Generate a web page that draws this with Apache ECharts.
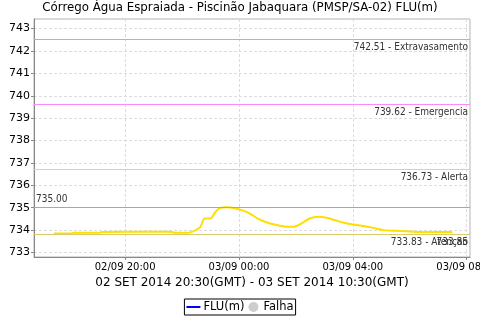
<!DOCTYPE html>
<html><head><meta charset="utf-8">
<script src="https://cdn.jsdelivr.net/npm/echarts@6/dist/echarts.min.js"></script>
<style>html,body{margin:0;padding:0;background:#fff}#c{width:480px;height:320px}</style>
</head><body><div id="c"></div>
<script>
var titleText = 'Córrego Água Espraiada - Piscinão Jabaquara (PMSP/SA-02) FLU(m)';
var axisName = '02 SET 2014 20:30(GMT) - 03 SET 2014 10:30(GMT)';
var times = ['2014-09-02T17:30Z','2014-09-02T18:06Z','2014-09-02T18:12Z','2014-09-02T19:06Z','2014-09-02T19:12Z',
 '2014-09-02T21:36Z','2014-09-02T21:45Z','2014-09-02T22:12Z','2014-09-02T22:27Z','2014-09-02T22:38Z',
 '2014-09-02T22:48Z','2014-09-02T23:00Z','2014-09-02T23:10Z','2014-09-02T23:20Z','2014-09-02T23:33Z',
 '2014-09-02T23:51Z','2014-09-03T00:09Z','2014-09-03T00:24Z','2014-09-03T00:41Z','2014-09-03T01:02Z',
 '2014-09-03T01:26Z','2014-09-03T01:44Z','2014-09-03T01:58Z','2014-09-03T02:12Z','2014-09-03T02:29Z',
 '2014-09-03T02:47Z','2014-09-03T03:05Z','2014-09-03T03:22Z','2014-09-03T03:43Z','2014-09-03T04:01Z',
 '2014-09-03T04:22Z','2014-09-03T04:43Z','2014-09-03T05:04Z','2014-09-03T05:32Z','2014-09-03T05:53Z',
 '2014-09-03T06:14Z','2014-09-03T07:30Z'];
var levels = [733.85,733.85,733.88,733.88,733.92,
 733.93,733.88,733.88,733.98,734.12,
 734.52,734.52,734.80,734.98,735.02,
 734.98,734.87,734.73,734.50,734.32,
 734.20,734.15,734.16,734.30,734.52,
 734.60,734.55,734.45,734.32,734.25,
 734.18,734.10,734.00,733.97,733.95,
 733.92,733.92];
var thresholdValues = [742.51, 739.62, 736.73, 735.00, 733.83];
var thresholdLabels = ['742.51 - Extravasamento', '739.62 - Emergencia', '736.73 - Alerta', '735.00', '733.83 - Atenção'];
var thresholdColors = ['#f09a9a', '#ff88ff', '#ffc88a', '#a8a8a8', '#d8cc6a'];
var extraLabel = '733.85';
var xMin = '2014-09-02T16:48Z', xMax = '2014-09-03T08:07Z';
var yMin = 732.8, yMax = 743.43;

var data = times.map(function (t, i) { return [Date.parse(t), levels[i]]; });
var marks = thresholdValues.map(function (v, i) {
  return {
    yAxis: v,
    lineStyle: { color: thresholdColors[i], width: 1, type: 'solid' },
    label: { formatter: thresholdLabels[i], position: i === 3 ? 'insideStartTop' : 'insideEndBottom' }
  };
});
marks.push({ yAxis: thresholdValues[4], lineStyle: { color: thresholdColors[4], width: 1, type: 'solid' },
  label: { formatter: extraLabel, position: 'insideEndBottom' } });

function pad(n) { return (n < 10 ? '0' : '') + n; }
var chart = echarts.init(document.getElementById('c'), null, { renderer: 'canvas' });
chart.setOption({
  useUTC: true,
  animation: false,
  textStyle: { fontFamily: 'DejaVu Sans' },
  title: { text: titleText, left: 'center', top: 0, padding: [2, 5],
    textStyle: { fontSize: 11.8, fontWeight: 'normal', color: '#000', fontFamily: 'DejaVu Sans' } },
  grid: { left: 34, right: 10, top: 19, bottom: 63, outerBoundsMode: 'none', containLabel: false,
    show: true, borderColor: '#b0b0b0', borderWidth: 1, backgroundColor: '#fff' },
  legend: {
    bottom: 5, left: 'center', itemGap: 4, itemWidth: 14, itemHeight: 10,
    borderColor: '#000', borderWidth: 1, borderRadius: 0, padding: [2, 2],
    textStyle: { fontSize: 11.5, color: '#000', padding: [0, 0, 0, -2] },
    data: [
      { name: 'FLU(m)', icon: 'path://M0,4 L14,4 L14,6 L0,6 Z', itemStyle: { color: '#0000ff' } },
      { name: 'Falha', icon: 'circle', itemStyle: { color: '#c0c0c0' } }
    ]
  },
  xAxis: {
    type: 'time', min: Date.parse(xMin), max: Date.parse(xMax),
    minInterval: 4 * 3600000, maxInterval: 4 * 3600000,
    name: axisName, nameLocation: 'middle', nameGap: 20,
    nameTextStyle: { fontSize: 12, color: '#000' },
    axisLine: { lineStyle: { color: '#888' } },
    axisTick: { length: 3, lineStyle: { color: '#888' } },
    splitLine: { show: true, lineStyle: { color: '#dcdcdc', type: [3, 2] } },
    axisLabel: { fontSize: 10, color: '#000', margin: 5, hideOverlap: false,
      formatter: function (v) { var d = new Date(v);
        return pad(d.getUTCDate()) + '/' + pad(d.getUTCMonth() + 1) + ' ' + pad(d.getUTCHours()) + ':' + pad(d.getUTCMinutes()); } }
  },
  yAxis: [{
    type: 'value', min: yMin, max: yMax, splitNumber: 10, minInterval: 1, maxInterval: 1,
    axisLine: { show: true, lineStyle: { color: '#888' } },
    axisTick: { show: true, length: 3, lineStyle: { color: '#888' } },
    splitLine: { show: true, lineStyle: { color: '#dcdcdc', type: [3, 2] } },
    axisLabel: { fontSize: 11, color: '#000', margin: 4, showMinLabel: false, showMaxLabel: false,
      formatter: function (v) { return Math.abs(v - Math.round(v)) < 1e-6 ? String(Math.round(v)) : ''; } }
  }],
  series: [
    { name: 'FLU(m)', type: 'line', data: data, showSymbol: false, smooth: 0.3,
      lineStyle: { color: '#ffde00', width: 2 }, itemStyle: { color: '#ffde00' }, z: 3,
      markLine: { silent: true, symbol: ['none', 'none'], precision: 2,
        label: { fontSize: 10, color: '#333', fontFamily: 'DejaVu Sans Condensed', distance: [2, 3] },
        data: marks } },
    { name: 'Falha', type: 'scatter', data: [], itemStyle: { color: '#c0c0c0' } }
  ]
});
</script></body></html>
